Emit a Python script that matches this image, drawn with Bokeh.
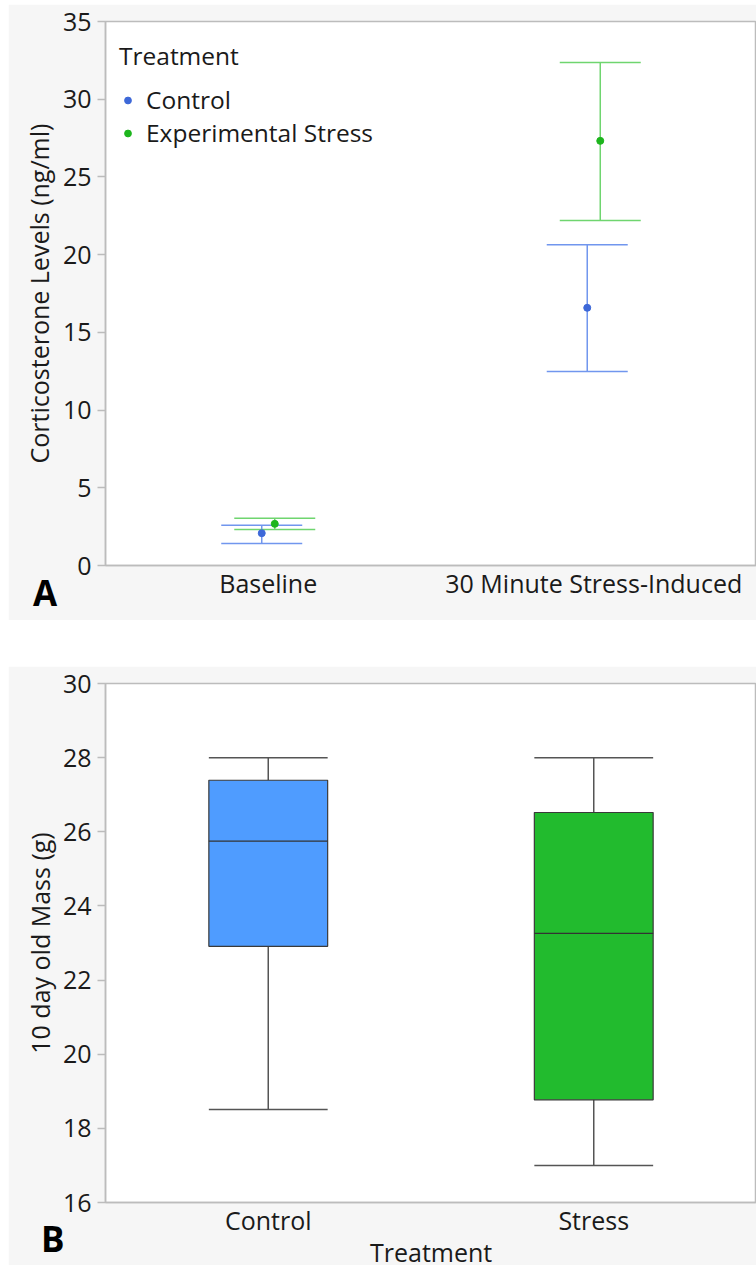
from bokeh.plotting import figure
from bokeh.models import (ColumnDataSource, Range1d, FactorRange, SingleIntervalTicker,
                          Whisker, TeeHead, Legend, LegendItem, GridBox, Div)
from bokeh.transform import dodge
from bokeh.embed import file_html
from bokeh.resources import INLINE

# ---------------- data ----------------
timepoints = ["Baseline", "30 Minute Stress-Induced"]
control_mean = [2.08, 16.58]
control_lower = [1.41, 12.48]
control_upper = [2.59, 20.63]
stress_mean = [2.68, 27.32]
stress_lower = [2.31, 22.19]
stress_upper = [3.04, 32.36]

treatments = ["Control", "Stress"]
mass_q1 = [22.91, 18.77]
mass_median = [25.75, 23.26]
mass_q3 = [27.39, 26.52]
mass_low = [18.51, 17.0]
mass_high = [28.0, 28.0]

FONT = "Open Sans"
FS = "25px"
TXT = "#1a1a1a"
BG = "#f6f6f6"
AX = "#bcbcbc"
BLUE_L, BLUE_D = "#7196ee", "#3d68d8"
GREEN_L, GREEN_D = "#6fd56f", "#1db51d"


def style(p):
    p.background_fill_color = "white"
    p.border_fill_color = BG
    p.outline_line_color = AX
    p.outline_line_width = 1.5
    p.grid.visible = False
    for ax in (p.xaxis[0], p.yaxis[0]):
        ax.axis_line_color = AX
        ax.axis_line_width = 1.5
        ax.major_label_text_font = FONT
        ax.major_label_text_font_size = FS
        ax.major_label_text_color = TXT
        ax.axis_label_text_font = FONT
        ax.axis_label_text_font_size = FS
        ax.axis_label_text_font_style = "normal"
        ax.axis_label_text_color = TXT
        ax.minor_tick_line_color = None
    p.yaxis[0].major_tick_line_color = AX
    p.yaxis[0].major_tick_line_width = 1.5
    p.yaxis[0].major_tick_out = 8
    p.yaxis[0].major_tick_in = 0
    p.yaxis[0].major_label_standoff = 6
    p.xaxis[0].major_tick_line_color = None
    p.xaxis[0].major_tick_out = 0
    p.xaxis[0].major_tick_in = 0
    p.xaxis[0].major_label_standoff = 0


def text_div(txt, size, weight, width, height, margin, color="black"):
    html = (f'<div style="font-family: \'{FONT}\'; font-size: {size}px; font-weight: {weight}; '
            f'line-height: 1; color: {color}; white-space: nowrap;">{txt}</div>')
    return Div(text=html, width=width, height=height, margin=margin)


# ---------------- panel A ----------------
pa = figure(width=748, height=616, x_range=FactorRange(*timepoints), y_range=Range1d(0, 35),
            output_backend="svg", toolbar_location=None,
            min_border_left=97, min_border_right=0, min_border_top=17, min_border_bottom=55)
pa.margin = (4, 0, 0, 8)
style(pa)
pa.yaxis[0].ticker = SingleIntervalTicker(interval=5)
pa.yaxis[0].axis_label = "Corticosterone Levels (ng/ml)"
pa.yaxis[0].axis_label_standoff = 4

src_c = ColumnDataSource(dict(t=timepoints, m=control_mean, lo=control_lower, hi=control_upper))
src_s = ColumnDataSource(dict(t=timepoints, m=stress_mean, lo=stress_lower, hi=stress_upper))

for src, off, cl in ((src_c, -0.02, BLUE_L), (src_s, 0.02, GREEN_L)):
    w = Whisker(source=src, base=dodge("t", off, range=pa.x_range), lower="lo", upper="hi",
                line_color=cl, line_width=1.5,
                upper_head=TeeHead(size=81, line_color=cl, line_width=1.5),
                lower_head=TeeHead(size=81, line_color=cl, line_width=1.5))
    pa.add_layout(w)

r_c = pa.scatter(x=dodge("t", -0.02, range=pa.x_range), y="m", source=src_c, size=7,
                 fill_color=BLUE_D, line_color=BLUE_D)
r_s = pa.scatter(x=dodge("t", 0.02, range=pa.x_range), y="m", source=src_s, size=7,
                 fill_color=GREEN_D, line_color=GREEN_D)

leg = Legend(items=[LegendItem(label="Control", renderers=[r_c]),
                    LegendItem(label="Experimental Stress", renderers=[r_s])],
             location=(14, 416), title="Treatment")
leg.title_text_font = FONT
leg.title_text_font_size = "24.5px"
leg.title_text_font_style = "normal"
leg.title_text_color = TXT
leg.label_text_font = FONT
leg.label_text_font_size = "24.5px"
leg.label_text_color = TXT
leg.background_fill_alpha = 0
leg.border_line_alpha = 0
leg.margin = 0
leg.padding = 0
leg.glyph_width = 17
leg.glyph_height = 30
leg.label_height = 30
leg.spacing = 0
leg.label_standoff = 10
leg.title_standoff = 11
pa.add_layout(leg)

div_a = text_div("A", 35, "bold", 30, 36, (575, 0, 0, 33))

# ---------------- panel B ----------------
pb = figure(width=748, height=599, x_range=FactorRange(*treatments), y_range=Range1d(16, 30),
            output_backend="svg", toolbar_location=None,
            min_border_left=95, min_border_right=0, min_border_top=17, min_border_bottom=63)
pb.margin = (46, 0, 0, 8)
style(pb)
pb.yaxis[0].ticker = SingleIntervalTicker(interval=2)
pb.yaxis[0].axis_label = "10 day old Mass (g)"
pb.yaxis[0].axis_label_standoff = 3

src_b = ColumnDataSource(dict(t=treatments, q1=mass_q1, med=mass_median, q3=mass_q3,
                              lo=mass_low, hi=mass_high, color=["#4f9cff", "#22bb2e"]))
BW = 0.365
WC = "#555555"
pb.segment(x0="t", x1="t", y0="q3", y1="hi", source=src_b, line_color=WC, line_width=1.5)
pb.segment(x0="t", x1="t", y0="lo", y1="q1", source=src_b, line_color=WC, line_width=1.5)
pb.segment(x0=dodge("t", -BW / 2, range=pb.x_range), x1=dodge("t", BW / 2, range=pb.x_range),
           y0="hi", y1="hi", source=src_b, line_color=WC, line_width=1.5)
pb.segment(x0=dodge("t", -BW / 2, range=pb.x_range), x1=dodge("t", BW / 2, range=pb.x_range),
           y0="lo", y1="lo", source=src_b, line_color=WC, line_width=1.5)
pb.vbar(x="t", top="q3", bottom="q1", width=BW, source=src_b, fill_color="color",
        line_color="#3a3a3a", line_width=1.2)
pb.segment(x0=dodge("t", -BW / 2, range=pb.x_range), x1=dodge("t", BW / 2, range=pb.x_range),
           y0="med", y1="med", source=src_b, line_color="#333333", line_width=1.2)

div_b = text_div("B", 35, "bold", 30, 36, (601, 0, 0, 41))
div_t = text_div("Treatment", 25, "normal", 130, 25, (620, 0, 0, 370), color=TXT)

grid = GridBox(children=[(pa, 0, 0), (div_a, 0, 0), (pb, 1, 0), (div_b, 1, 0), (div_t, 1, 0)],
               spacing=0)
open("out.html", "w").write(file_html(grid, INLINE))
